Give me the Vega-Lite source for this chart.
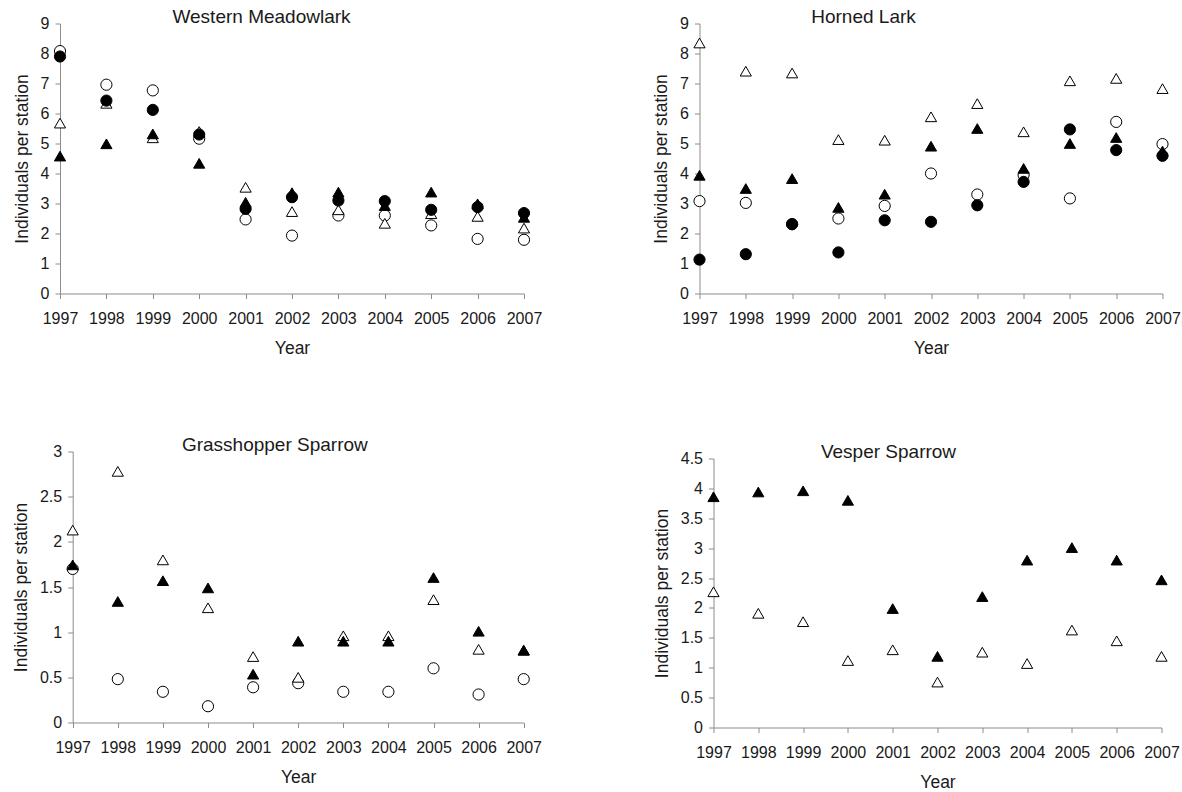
{
  "$schema": "https://vega.github.io/schema/vega-lite/v6.json",
  "padding": {"left": 12, "top": 7.5, "right": 0, "bottom": 0},
  "background": "white",
  "datasets": {
    "wm": [
      {"year": 1997, "grp": "Open circle", "v": 8.08}, {"year": 1997, "grp": "Open triangle", "v": 5.68}, {"year": 1997, "grp": "Filled triangle", "v": 4.58}, {"year": 1997, "grp": "Filled circle", "v": 7.90},
      {"year": 1998, "grp": "Open circle", "v": 6.96}, {"year": 1998, "grp": "Open triangle", "v": 6.34}, {"year": 1998, "grp": "Filled triangle", "v": 4.99}, {"year": 1998, "grp": "Filled circle", "v": 6.43},
      {"year": 1999, "grp": "Open circle", "v": 6.77}, {"year": 1999, "grp": "Open triangle", "v": 5.19}, {"year": 1999, "grp": "Filled triangle", "v": 5.32}, {"year": 1999, "grp": "Filled circle", "v": 6.12},
      {"year": 2000, "grp": "Open circle", "v": 5.16}, {"year": 2000, "grp": "Open triangle", "v": 5.40}, {"year": 2000, "grp": "Filled triangle", "v": 4.34}, {"year": 2000, "grp": "Filled circle", "v": 5.30},
      {"year": 2001, "grp": "Open circle", "v": 2.47}, {"year": 2001, "grp": "Open triangle", "v": 3.54}, {"year": 2001, "grp": "Filled triangle", "v": 3.04}, {"year": 2001, "grp": "Filled circle", "v": 2.82},
      {"year": 2002, "grp": "Open circle", "v": 1.93}, {"year": 2002, "grp": "Open triangle", "v": 2.73}, {"year": 2002, "grp": "Filled triangle", "v": 3.36}, {"year": 2002, "grp": "Filled circle", "v": 3.21},
      {"year": 2003, "grp": "Open circle", "v": 2.60}, {"year": 2003, "grp": "Open triangle", "v": 2.79}, {"year": 2003, "grp": "Filled triangle", "v": 3.38}, {"year": 2003, "grp": "Filled circle", "v": 3.10},
      {"year": 2004, "grp": "Open circle", "v": 2.60}, {"year": 2004, "grp": "Open triangle", "v": 2.34}, {"year": 2004, "grp": "Filled triangle", "v": 2.93}, {"year": 2004, "grp": "Filled circle", "v": 3.08},
      {"year": 2005, "grp": "Open circle", "v": 2.27}, {"year": 2005, "grp": "Open triangle", "v": 2.66}, {"year": 2005, "grp": "Filled triangle", "v": 3.38}, {"year": 2005, "grp": "Filled circle", "v": 2.79},
      {"year": 2006, "grp": "Open circle", "v": 1.82}, {"year": 2006, "grp": "Open triangle", "v": 2.57}, {"year": 2006, "grp": "Filled triangle", "v": 2.99}, {"year": 2006, "grp": "Filled circle", "v": 2.88},
      {"year": 2007, "grp": "Open circle", "v": 1.79}, {"year": 2007, "grp": "Open triangle", "v": 2.18}, {"year": 2007, "grp": "Filled triangle", "v": 2.54}, {"year": 2007, "grp": "Filled circle", "v": 2.68}
    ],
    "hl": [
      {"year": 1997, "grp": "Open circle", "v": 3.08}, {"year": 1997, "grp": "Open triangle", "v": 8.35}, {"year": 1997, "grp": "Filled triangle", "v": 3.94}, {"year": 1997, "grp": "Filled circle", "v": 1.13},
      {"year": 1998, "grp": "Open circle", "v": 3.02}, {"year": 1998, "grp": "Open triangle", "v": 7.41}, {"year": 1998, "grp": "Filled triangle", "v": 3.50}, {"year": 1998, "grp": "Filled circle", "v": 1.31},
      {"year": 1999, "grp": "Open circle", "v": 2.31}, {"year": 1999, "grp": "Open triangle", "v": 7.35}, {"year": 1999, "grp": "Filled triangle", "v": 3.83}, {"year": 1999, "grp": "Filled circle", "v": 2.31},
      {"year": 2000, "grp": "Open circle", "v": 2.50}, {"year": 2000, "grp": "Open triangle", "v": 5.13}, {"year": 2000, "grp": "Filled triangle", "v": 2.87}, {"year": 2000, "grp": "Filled circle", "v": 1.37},
      {"year": 2001, "grp": "Open circle", "v": 2.92}, {"year": 2001, "grp": "Open triangle", "v": 5.11}, {"year": 2001, "grp": "Filled triangle", "v": 3.31}, {"year": 2001, "grp": "Filled circle", "v": 2.44},
      {"year": 2002, "grp": "Open circle", "v": 4.00}, {"year": 2002, "grp": "Open triangle", "v": 5.89}, {"year": 2002, "grp": "Filled triangle", "v": 4.91}, {"year": 2002, "grp": "Filled circle", "v": 2.39},
      {"year": 2003, "grp": "Open circle", "v": 3.30}, {"year": 2003, "grp": "Open triangle", "v": 6.33}, {"year": 2003, "grp": "Filled triangle", "v": 5.50}, {"year": 2003, "grp": "Filled circle", "v": 2.94},
      {"year": 2004, "grp": "Open circle", "v": 3.95}, {"year": 2004, "grp": "Open triangle", "v": 5.39}, {"year": 2004, "grp": "Filled triangle", "v": 4.17}, {"year": 2004, "grp": "Filled circle", "v": 3.72},
      {"year": 2005, "grp": "Open circle", "v": 3.17}, {"year": 2005, "grp": "Open triangle", "v": 7.09}, {"year": 2005, "grp": "Filled triangle", "v": 5.00}, {"year": 2005, "grp": "Filled circle", "v": 5.47},
      {"year": 2006, "grp": "Open circle", "v": 5.72}, {"year": 2006, "grp": "Open triangle", "v": 7.17}, {"year": 2006, "grp": "Filled triangle", "v": 5.20}, {"year": 2006, "grp": "Filled circle", "v": 4.78},
      {"year": 2007, "grp": "Open circle", "v": 4.98}, {"year": 2007, "grp": "Open triangle", "v": 6.83}, {"year": 2007, "grp": "Filled triangle", "v": 4.75}, {"year": 2007, "grp": "Filled circle", "v": 4.59}
    ],
    "gs": [
      {"year": 1997, "grp": "Open circle", "v": 1.70}, {"year": 1997, "grp": "Open triangle", "v": 2.13}, {"year": 1997, "grp": "Filled triangle", "v": 1.745},
      {"year": 1998, "grp": "Open circle", "v": 0.48}, {"year": 1998, "grp": "Open triangle", "v": 2.78}, {"year": 1998, "grp": "Filled triangle", "v": 1.34},
      {"year": 1999, "grp": "Open circle", "v": 0.34}, {"year": 1999, "grp": "Open triangle", "v": 1.80}, {"year": 1999, "grp": "Filled triangle", "v": 1.57},
      {"year": 2000, "grp": "Open circle", "v": 0.18}, {"year": 2000, "grp": "Open triangle", "v": 1.27}, {"year": 2000, "grp": "Filled triangle", "v": 1.49},
      {"year": 2001, "grp": "Open circle", "v": 0.39}, {"year": 2001, "grp": "Open triangle", "v": 0.73}, {"year": 2001, "grp": "Filled triangle", "v": 0.535},
      {"year": 2002, "grp": "Open circle", "v": 0.435}, {"year": 2002, "grp": "Open triangle", "v": 0.50}, {"year": 2002, "grp": "Filled triangle", "v": 0.90},
      {"year": 2003, "grp": "Open circle", "v": 0.34}, {"year": 2003, "grp": "Open triangle", "v": 0.96}, {"year": 2003, "grp": "Filled triangle", "v": 0.90},
      {"year": 2004, "grp": "Open circle", "v": 0.34}, {"year": 2004, "grp": "Open triangle", "v": 0.96}, {"year": 2004, "grp": "Filled triangle", "v": 0.90},
      {"year": 2005, "grp": "Open circle", "v": 0.60}, {"year": 2005, "grp": "Open triangle", "v": 1.36}, {"year": 2005, "grp": "Filled triangle", "v": 1.605},
      {"year": 2006, "grp": "Open circle", "v": 0.31}, {"year": 2006, "grp": "Open triangle", "v": 0.81}, {"year": 2006, "grp": "Filled triangle", "v": 1.01},
      {"year": 2007, "grp": "Open circle", "v": 0.48}, {"year": 2007, "grp": "Open triangle", "v": 0.80}, {"year": 2007, "grp": "Filled triangle", "v": 0.80}
    ],
    "vs": [
      {"year": 1997, "grp": "Open triangle", "v": 2.27}, {"year": 1997, "grp": "Filled triangle", "v": 3.86},
      {"year": 1998, "grp": "Open triangle", "v": 1.91}, {"year": 1998, "grp": "Filled triangle", "v": 3.94},
      {"year": 1999, "grp": "Open triangle", "v": 1.77}, {"year": 1999, "grp": "Filled triangle", "v": 3.96},
      {"year": 2000, "grp": "Open triangle", "v": 1.12}, {"year": 2000, "grp": "Filled triangle", "v": 3.80},
      {"year": 2001, "grp": "Open triangle", "v": 1.30}, {"year": 2001, "grp": "Filled triangle", "v": 1.99},
      {"year": 2002, "grp": "Open triangle", "v": 0.76}, {"year": 2002, "grp": "Filled triangle", "v": 1.19},
      {"year": 2003, "grp": "Open triangle", "v": 1.26}, {"year": 2003, "grp": "Filled triangle", "v": 2.19},
      {"year": 2004, "grp": "Open triangle", "v": 1.07}, {"year": 2004, "grp": "Filled triangle", "v": 2.80},
      {"year": 2005, "grp": "Open triangle", "v": 1.63}, {"year": 2005, "grp": "Filled triangle", "v": 3.01},
      {"year": 2006, "grp": "Open triangle", "v": 1.45}, {"year": 2006, "grp": "Filled triangle", "v": 2.80},
      {"year": 2007, "grp": "Open triangle", "v": 1.19}, {"year": 2007, "grp": "Filled triangle", "v": 2.47}
    ]
  },
  "concat": [
    {
      "width": 464, "height": 270,
      "data": {"name": "wm"},
      "title": {"text": "Western Meadowlark", "dx": -30.5, "dy": 15.5},
      "mark": {"type": "point", "filled": true, "stroke": "black", "strokeWidth": 1, "opacity": 1, "size": 125},
      "encoding": {
        "x": {"field": "year", "type": "quantitative", "scale": {"domain": [1997, 2007], "nice": false, "zero": false}, "axis": {"values": [1997, 1998, 1999, 2000, 2001, 2002, 2003, 2004, 2005, 2006, 2007], "format": "d", "title": "Year"}},
        "y": {"field": "v", "type": "quantitative", "scale": {"domain": [0, 9], "nice": false}, "axis": {"values": [0, 1, 2, 3, 4, 5, 6, 7, 8, 9], "format": "~g", "title": "Individuals per station"}},
        "shape": {"field": "grp", "type": "nominal", "scale": {"domain": ["Open circle", "Filled circle", "Open triangle", "Filled triangle"], "range": ["circle", "circle", "triangle-up", "triangle-up"]}, "legend": null},
        "fill": {"field": "grp", "type": "nominal", "scale": {"domain": ["Open circle", "Filled circle", "Open triangle", "Filled triangle"], "range": ["white", "black", "white", "black"]}, "legend": null}
      }
    },
    {
      "width": 463, "height": 270,
      "data": {"name": "hl"},
      "title": {"text": "Horned Lark", "dx": -67.5, "dy": 15.5},
      "mark": {"type": "point", "filled": true, "stroke": "black", "strokeWidth": 1, "opacity": 1, "size": 125},
      "encoding": {
        "x": {"field": "year", "type": "quantitative", "scale": {"domain": [1997, 2007], "nice": false, "zero": false}, "axis": {"values": [1997, 1998, 1999, 2000, 2001, 2002, 2003, 2004, 2005, 2006, 2007], "format": "d", "title": "Year"}},
        "y": {"field": "v", "type": "quantitative", "scale": {"domain": [0, 9], "nice": false}, "axis": {"values": [0, 1, 2, 3, 4, 5, 6, 7, 8, 9], "format": "~g", "title": "Individuals per station"}},
        "shape": {"field": "grp", "type": "nominal", "scale": {"domain": ["Open circle", "Filled circle", "Open triangle", "Filled triangle"], "range": ["circle", "circle", "triangle-up", "triangle-up"]}, "legend": null},
        "fill": {"field": "grp", "type": "nominal", "scale": {"domain": ["Open circle", "Filled circle", "Open triangle", "Filled triangle"], "range": ["white", "black", "white", "black"]}, "legend": null}
      }
    },
    {
      "width": 463.7, "height": 271,
      "data": {"name": "gs"},
      "title": {"text": "Grasshopper Sparrow", "dx": -17, "dy": 15.5},
      "mark": {"type": "point", "filled": true, "stroke": "black", "strokeWidth": 1, "opacity": 1, "size": 125},
      "encoding": {
        "x": {"field": "year", "type": "quantitative", "scale": {"domain": [1997, 2007], "nice": false, "zero": false, "rangeMin": 12.7}, "axis": {"values": [1997, 1998, 1999, 2000, 2001, 2002, 2003, 2004, 2005, 2006, 2007], "format": "d", "title": "Year"}},
        "y": {"field": "v", "type": "quantitative", "scale": {"domain": [0, 3], "nice": false}, "axis": {"values": [0, 0.5, 1, 1.5, 2, 2.5, 3], "format": "~g", "title": "Individuals per station", "offset": -12.7}},
        "shape": {"field": "grp", "type": "nominal", "scale": {"domain": ["Open circle", "Filled circle", "Open triangle", "Filled triangle"], "range": ["circle", "circle", "triangle-up", "triangle-up"]}, "legend": null},
        "fill": {"field": "grp", "type": "nominal", "scale": {"domain": ["Open circle", "Filled circle", "Open triangle", "Filled triangle"], "range": ["white", "black", "white", "black"]}, "legend": null}
      }
    },
    {
      "width": 448, "height": 269,
      "data": {"name": "vs"},
      "title": {"text": ["", "Vesper Sparrow"], "lineHeight": 7, "dx": -49, "dy": 15.5},
      "mark": {"type": "point", "filled": true, "stroke": "black", "strokeWidth": 1, "opacity": 1, "size": 125},
      "encoding": {
        "x": {"field": "year", "type": "quantitative", "scale": {"domain": [1997, 2007], "nice": false, "zero": false}, "axis": {"values": [1997, 1998, 1999, 2000, 2001, 2002, 2003, 2004, 2005, 2006, 2007], "format": "d", "title": "Year"}},
        "y": {"field": "v", "type": "quantitative", "scale": {"domain": [0, 4.5], "nice": false}, "axis": {"values": [0, 0.5, 1, 1.5, 2, 2.5, 3, 3.5, 4, 4.5], "format": "~g", "title": "Individuals per station"}},
        "shape": {"field": "grp", "type": "nominal", "scale": {"domain": ["Open circle", "Filled circle", "Open triangle", "Filled triangle"], "range": ["circle", "circle", "triangle-up", "triangle-up"]}, "legend": null},
        "fill": {"field": "grp", "type": "nominal", "scale": {"domain": ["Open circle", "Filled circle", "Open triangle", "Filled triangle"], "range": ["white", "black", "white", "black"]}, "legend": null}
      }
    }
  ],
  "columns": 2,
  "align": "none",
  "spacing": {"row": 78, "column": 110.5},
  "resolve": {"scale": {"x": "independent", "y": "independent", "shape": "independent", "fill": "independent"}},
  "config": {
    "view": {"stroke": null},
    "font": "Liberation Sans",
    "axis": {
      "grid": false,
      "domainColor": "#8c8c8c",
      "tickColor": "#8c8c8c",
      "tickSize": 5,
      "labelColor": "#1a1a1a",
      "titleColor": "#1a1a1a",
      "labelFont": "Liberation Sans",
      "titleFont": "Liberation Sans",
      "labelFontSize": 16,
      "titleFontSize": 17.5,
      "titleFontWeight": "normal"
    },
    "axisX": {"labelPadding": 12, "titlePadding": 13, "labelFlush": false},
    "axisY": {"labelPadding": 6, "titlePadding": 9},
    "title": {"font": "Liberation Sans", "fontSize": 19, "fontWeight": "normal", "color": "#1a1a1a", "anchor": "middle", "offset": 0, "baseline": "alphabetic"}
  }
}
